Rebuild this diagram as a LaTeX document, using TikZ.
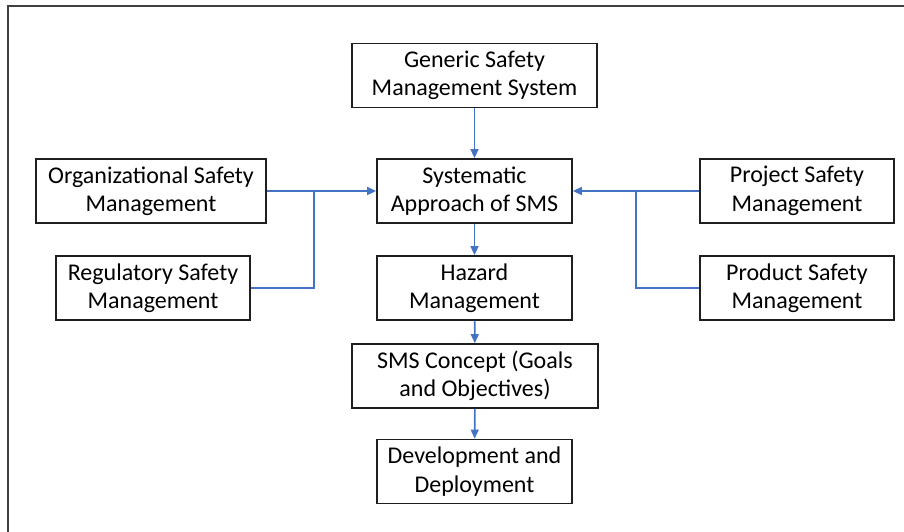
\documentclass[tikz,border=0pt]{standalone}
\usepackage{fontspec}
\usepackage{tikz}
\usetikzlibrary{arrows.meta}
\setmainfont{Carlito}

\definecolor{linkblue}{HTML}{4472C4}

\begin{document}
\begin{tikzpicture}[x=1pt,y=-1pt,
    box/.style={draw=black!88,line width=1.8pt,minimum height=64pt,inner sep=0pt,
        align=center,font=\fontsize{24}{28.5}\selectfont},
    link/.style={draw=linkblue,line width=1.6pt},
    flow/.style={link,-{Triangle[length=9pt,width=8pt]}}]

    % page and outer frame
    \useasboundingbox (0,0) rectangle (904,532);
    \clip (0,0) rectangle (904,532);
    \draw[black!75,line width=2pt] (8,6) rectangle (916,546);

    % main chain in the middle
    \node[box,minimum width=245pt] (generic) at (474.5,75.5) {Generic Safety\\Management System};
    \node[box,minimum width=195pt] (systematic) at (474.5,191) {Systematic\\Approach of SMS};
    \node[box,minimum width=195pt] (hazard) at (474.5,288) {Hazard\\Management};
    \node[box,minimum width=246pt] (concept) at (475,376) {SMS Concept (Goals\\and Objectives)};
    \node[box,minimum width=195pt] (devel) at (474.5,471.5) {Development and\\Deployment};

    % side inputs
    \node[box,minimum width=230pt] (organ) at (151,191) {Organizational Safety\\Management};
    \node[box,minimum width=194pt] (regul) at (153,288) {Regulatory Safety\\Management};
    \node[box,minimum width=194pt] (project) at (797,191) {Project Safety\\Management};
    \node[box,minimum width=194pt] (product) at (797,288) {Product Safety\\Management};

    % junctions where the lower boxes join in
    \coordinate (ljoin) at (314,191);
    \coordinate (rjoin) at (636,191);

    \draw[flow] (generic) -- (systematic);
    \draw[flow] (systematic) -- (hazard);
    \draw[flow] (hazard) -- (concept);
    \draw[flow] (concept) -- (devel);

    \draw[flow] (organ.east) -- (systematic.west);
    \draw[link] (regul.east) -| (ljoin);
    \draw[flow] (project.west) -- (systematic.east);
    \draw[link] (product.west) -| (rjoin);

\end{tikzpicture}
\end{document}
